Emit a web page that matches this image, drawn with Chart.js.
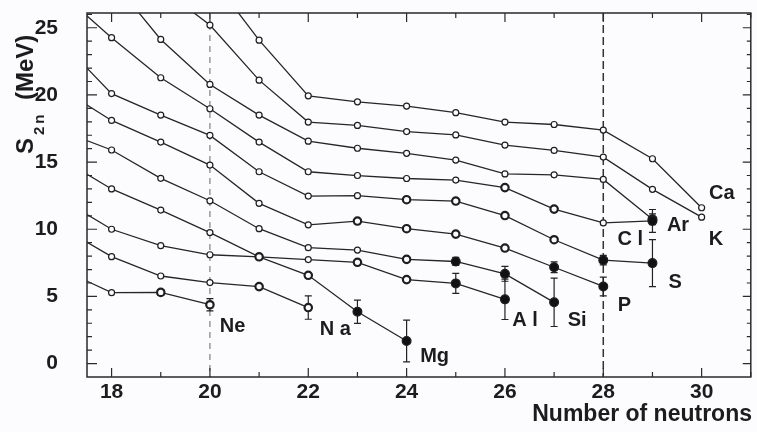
<!DOCTYPE html>
<html>
<head>
<meta charset="utf-8">
<script src="https://cdn.jsdelivr.net/npm/chart.js@4/dist/chart.umd.min.js"></script>
<style>
  html, body { margin: 0; padding: 0; background: #fcfbfe; }
  #wrap { width: 757px; height: 432px; }
</style>
</head>
<body>
<div id="wrap"><canvas id="c" width="757" height="432"></canvas></div>
<script>
// Two-neutron separation energies S2n (MeV) vs neutron number, one row per element
const neutrons = [17, 18, 19, 20, 21, 22, 23, 24, 25, 26, 27, 28, 29, 30];
const Ne = [7.0, 5.28, 5.30, 4.38, null, null, null, null, null, null, null, null, null, null];
const Na = [10.1, 7.96, 6.52, 6.03, 5.73, 4.17, null, null, null, null, null, null, null, null];
const Mg = [12.2, 10.0, 8.78, 8.10, 7.95, 6.57, 3.86, 1.68, null, null, null, null, null, null];
const Al = [15.2, 13.0, 11.43, 9.75, 7.95, 7.74, 7.54, 6.25, 5.97, 4.78, null, null, null, null];
const Si = [17.3, 15.9, 13.79, 12.12, 10.04, 8.63, 8.45, 7.76, 7.60, 6.68, 4.56, null, null, null];
const P  = [20.4, 18.1, 16.49, 14.78, 11.93, 10.33, 10.61, 10.04, 9.64, 8.60, 7.17, 5.74, null, null];
const S  = [23.9, 20.1, 18.5, 16.99, 14.28, 12.47, 12.5, 12.2, 12.1, 11.02, 9.22, 7.70, 7.48, null];
const Cl = [27.5, 24.26, 21.28, 18.97, 16.49, 14.28, 14.0, 13.78, 13.66, 13.10, 11.50, 10.47, 10.62, null];
const Ar = [null, 28.6, 24.13, 20.78, 18.5, 16.56, 16.03, 15.65, 15.15, 14.12, 14.05, 13.71, 10.74, null];
const K  = [null, null, 28.0, 25.2, 21.1, 17.98, 17.73, 17.27, 17.02, 16.27, 15.87, 15.37, 12.97, 10.90];
const Ca = [null, null, null, 28.9, 24.08, 19.93, 19.49, 19.17, 18.68, 17.98, 17.80, 17.38, 15.25, 11.60];

const elements = { Ne, Na, Mg, Al, Si, P, S, Cl, Ar, K, Ca };

// New measurements (solid symbols)
const newMeasured = [['Mg',23],['Mg',24],['Al',25],['Al',26],['Si',25],['Si',26],['Si',27],
                     ['P',27],['P',28],['S',28],['S',29],['Cl',29],['Ar',29]];
// Earlier measurements with larger symbols
const largeOpen = [['Ne',19],['Ne',20],['Na',21],['Na',22],['Mg',21],['Mg',22],['Al',23],['Al',24],
                   ['Si',24],['P',23],['P',24],['P',25],['P',26],['S',24],['S',25],['S',26],['S',27],
                   ['Cl',26],['Cl',27]];
// Uncertainties (MeV)
const uncertainties = [['Ne',19,0.2],['Ne',20,0.45],['Na',22,0.87],['Mg',23,0.87],['Mg',24,1.55],
                       ['Al',25,0.75],['Al',26,1.5],['Si',25,0.3],['Si',26,0.55],['Si',27,1.8],
                       ['P',27,0.4],['P',28,0.7],['S',28,0.35],['S',29,1.75],['Cl',29,0.85],['Ar',29,0.4]];

// Axis ticks
const xTickLabels = [18, 20, 22, 24, 26, 28, 30];
const yTickLabels = [0, 5, 10, 15, 20, 25];
const shellClosures = [20, 28];

// Element name annotations [text, N, S2n]
const elementLabels = [['Ne',20.46,2.78],['N a',22.55,2.55],['Mg',24.57,0.55],['A l',26.41,3.23],
                       ['Si',27.47,3.23],['P',28.43,4.34],['S',29.46,6.05],['C l',28.55,9.25],
                       ['Ar',29.52,10.3],['K',30.29,9.25],['Ca',30.41,12.67]];

const FONT = '"Liberation Sans", Arial, Helvetica, sans-serif';
const INK = '#1c1c1c';

function has(list, el, n) { return list.some(e => e[0] === el && e[1] === n); }

const datasets = Object.keys(elements).map(name => {
  const vals = elements[name];
  const pts = [];
  neutrons.forEach((n, i) => { if (vals[i] !== null) pts.push({ x: n, y: vals[i] }); });
  return {
    label: name,
    data: pts,
    borderColor: '#262626',
    borderWidth: 1.3,
    tension: 0,
    pointRadius: ctx => {
      const n = ctx.raw.x;
      if (has(newMeasured, name, n)) return 4.4;
      if (has(largeOpen, name, n)) return 3.7;
      return 3;
    },
    pointBorderWidth: ctx => has(largeOpen, name, ctx.raw.x) ? 2.2 : 1.2,
    pointBackgroundColor: ctx => has(newMeasured, name, ctx.raw.x) ? '#111' : '#fcfbfe',
    pointBorderColor: '#1e1e1e',
    pointHoverRadius: 4
  };
});

const framePlugin = {
  id: 'frame',
  beforeDatasetsDraw(chart) {
    const { ctx, chartArea: a, scales: { x, y } } = chart;
    ctx.save();
    // dashed shell-closure markers
    shellClosures.forEach((n, i) => {
      const px = x.getPixelForValue(n);
      ctx.beginPath();
      ctx.setLineDash(i === 0 ? [6, 5] : [8, 4]);
      ctx.strokeStyle = i === 0 ? '#666' : '#333';
      ctx.lineWidth = i === 0 ? 1 : 1.5;
      ctx.moveTo(px, a.top); ctx.lineTo(px, a.bottom);
      ctx.stroke();
    });
    ctx.setLineDash([]);
    // error bars
    ctx.strokeStyle = '#222';
    ctx.lineWidth = 1.2;
    uncertainties.forEach(([el, n, e]) => {
      const v = elements[el][neutrons.indexOf(n)];
      const px = x.getPixelForValue(n);
      const y1 = y.getPixelForValue(v + e), y2 = y.getPixelForValue(v - e);
      ctx.beginPath();
      ctx.moveTo(px, y1); ctx.lineTo(px, y2);
      ctx.moveTo(px - 3.5, y1); ctx.lineTo(px + 3.5, y1);
      ctx.moveTo(px - 3.5, y2); ctx.lineTo(px + 3.5, y2);
      ctx.stroke();
    });
    ctx.restore();
  },
  afterDraw(chart) {
    const { ctx, chartArea: a, scales: { x, y } } = chart;
    ctx.save();
    // box
    ctx.strokeStyle = '#2a2a2a';
    ctx.lineWidth = 1.5;
    ctx.strokeRect(a.left, a.top, a.right - a.left, a.bottom - a.top);
    // inward ticks on all four sides
    ctx.lineWidth = 1.2;
    ctx.beginPath();
    for (let n = 18; n <= 31; n++) {
      const px = x.getPixelForValue(n);
      const len = n % 2 === 0 ? 9 : 5;
      ctx.moveTo(px, a.bottom); ctx.lineTo(px, a.bottom - len);
      ctx.moveTo(px, a.top); ctx.lineTo(px, a.top + len);
    }
    for (let v = 0; v <= 26; v++) {
      const py = y.getPixelForValue(v);
      const major = v % 5 === 0;
      ctx.moveTo(a.left, py); ctx.lineTo(a.left + (major ? 10 : 5), py);
      ctx.moveTo(a.right, py); ctx.lineTo(a.right - (major ? 8 : 4), py);
    }
    ctx.stroke();

    // element names
    ctx.fillStyle = INK;
    ctx.font = 'bold 20px ' + FONT;
    ctx.textAlign = 'center';
    ctx.textBaseline = 'middle';
    elementLabels.forEach(([t, n, v]) => {
      ctx.fillText(t, x.getPixelForValue(n), y.getPixelForValue(v));
    });

    // x title
    ctx.textAlign = 'right';
    ctx.textBaseline = 'alphabetic';
    ctx.font = 'bold 23px ' + FONT;
    ctx.fillText('Number of neutrons', 752, 421);

    // y title: S with subscript 2n, then (MeV)
    ctx.translate(33, 154);
    ctx.rotate(-Math.PI / 2);
    ctx.textAlign = 'left';
    ctx.font = 'bold 24px ' + FONT;
    ctx.fillText('S', 0, 0);
    const wS = ctx.measureText('S').width;
    ctx.font = 'bold 15px ' + FONT;
    ctx.fillText('2', wS + 3, 11);
    const w2 = ctx.measureText('2').width;
    ctx.fillText('n', wS + 3 + w2 + 3, 11);
    ctx.font = 'bold 24px ' + FONT;
    ctx.fillText('(MeV)', 54, 0);
    ctx.restore();
  }
};

new Chart(document.getElementById('c'), {
  type: 'line',
  data: { datasets },
  options: {
    responsive: false,
    animation: false,
    devicePixelRatio: 1,
    layout: { padding: { left: 0, top: 13, right: 2, bottom: 0 } },
    plugins: { legend: { display: false }, tooltip: { enabled: false } },
    scales: {
      x: {
        type: 'linear',
        min: 17.5,
        max: 31,
        afterBuildTicks: s => { s.ticks = xTickLabels.map(v => ({ value: v })); },
        afterFit: s => { s.height = 55; s.paddingLeft = 0; s.paddingRight = 0; },
        grid: { display: false, drawTicks: false },
        border: { display: false },
        ticks: { padding: 3, color: INK, font: { family: FONT, size: 21, weight: 'bold' }, maxRotation: 0 }
      },
      y: {
        type: 'linear',
        min: -1,
        max: 26.1,
        afterBuildTicks: s => { s.ticks = yTickLabels.map(v => ({ value: v })); },
        afterFit: s => { s.width = 87; s.paddingTop = 0; s.paddingBottom = 0; },
        grid: { display: false, drawTicks: false },
        border: { display: false },
        ticks: { padding: 29, color: INK, font: { family: FONT, size: 21, weight: 'bold' } }
      }
    }
  },
  plugins: [framePlugin]
});
</script>
</body>
</html>
